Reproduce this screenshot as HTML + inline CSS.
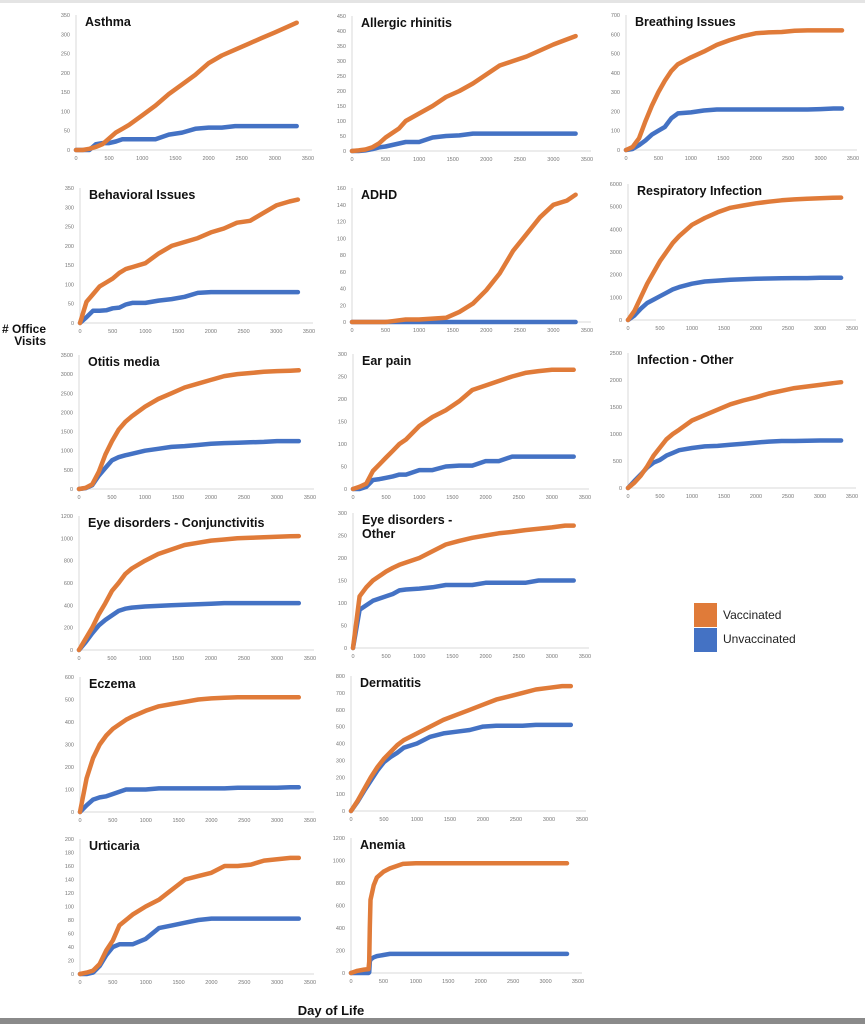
<!DOCTYPE html>
<html><head><meta charset="utf-8">
<style>
html,body{margin:0;padding:0;background:#fff;}
body{width:865px;height:1024px;overflow:hidden;position:relative;font-family:"Liberation Sans",sans-serif;}
</style></head>
<body>
<svg id="chart" width="865" height="1024" viewBox="0 0 865 1024" xmlns="http://www.w3.org/2000/svg" style="position:absolute;left:0;top:0">
<rect x="0" y="0" width="865" height="3" fill="#e4e4e4"/>
<rect x="0" y="1018" width="865" height="6" fill="#8a8a8a"/>
<text x="46" y="333" text-anchor="end" font-size="12" font-weight="bold" fill="#111">
<tspan x="46" y="333"># Office</tspan><tspan x="46" y="345">Visits</tspan></text>
<text x="331" y="1015" text-anchor="middle" font-size="13" font-weight="bold" fill="#111">Day of Life</text>
<g>
<rect x="694" y="603" width="23" height="24" fill="#E07B39"/>
<rect x="694" y="628" width="23" height="24" fill="#4472C4"/>
<text x="723" y="619" font-size="12" fill="#222">Vaccinated</text>
<text x="723" y="643" font-size="12" fill="#222">Unvaccinated</text>
</g>
</svg>
<script>
const days = [0,100,200,300,400,500,600,700,800,1000,1200,1400,1600,1800,2000,2200,2400,2600,2800,3000,3200,3330];
const xTicks = [0,500,1000,1500,2000,2500,3000,3500];
const asthmaVacc = [0,0,3,8,15,30,45,55,65,90,115,145,170,195,225,245,260,275,290,305,320,330];
const asthmaUnvacc = [0,0,0,15,18,18,22,28,28,28,28,40,45,55,58,58,62,62,62,62,62,62];
const allergicVacc = [0,2,5,12,25,45,60,75,100,125,150,180,200,225,255,285,300,315,335,355,372,383];
const allergicUnvacc = [0,0,2,6,12,15,20,25,30,30,45,50,52,58,58,58,58,58,58,58,58,58];
const breathingVacc = [0,15,60,150,230,300,360,410,445,480,510,545,570,590,605,610,612,618,620,620,620,620];
const breathingUnvacc = [0,5,25,50,80,100,120,165,190,195,205,210,210,210,210,210,210,210,210,212,215,215];
const behavioralVacc = [0,55,75,95,105,115,130,140,145,155,180,200,210,220,235,245,260,265,285,305,315,320];
const behavioralUnvacc = [0,15,32,32,33,38,40,48,52,52,58,62,68,78,80,80,80,80,80,80,80,80];
const adhdVacc = [0,0,0,0,0,0,1,2,3,3,4,5,12,22,38,58,85,105,125,140,145,152];
const adhdUnvacc = [0,0,0,0,0,0,0,0,0,0,0,0,0,0,0,0,0,0,0,0,0,0];
const respVacc = [0,400,1000,1600,2100,2600,3000,3400,3700,4200,4500,4750,4950,5050,5150,5220,5280,5320,5350,5370,5390,5400];
const respUnvacc = [0,200,500,750,900,1050,1200,1350,1450,1600,1700,1740,1780,1800,1820,1830,1840,1850,1850,1860,1860,1860];
const otitisVacc = [0,30,120,450,900,1250,1550,1750,1900,2150,2350,2500,2650,2750,2850,2950,3000,3030,3060,3080,3090,3100];
const otitisUnvacc = [0,20,100,350,550,750,830,880,920,1000,1050,1100,1120,1150,1180,1200,1210,1220,1230,1250,1250,1250];
const earVacc = [0,5,12,40,55,70,85,100,110,140,160,175,195,220,230,240,250,258,262,265,265,265];
const earUnvacc = [0,0,5,20,22,25,28,32,32,42,42,50,52,52,62,62,72,72,72,72,72,72];
const infVacc = [0,100,230,400,600,750,900,1000,1080,1250,1350,1450,1550,1620,1680,1750,1800,1850,1880,1910,1940,1960];
const infUnvacc = [0,130,250,380,470,520,600,650,700,740,770,780,800,820,840,860,870,870,875,880,880,880];
const conjVacc = [0,100,200,320,420,530,600,680,730,800,860,900,940,960,980,990,1000,1005,1010,1015,1018,1020];
const conjUnvacc = [0,70,150,220,270,310,350,370,380,390,395,400,405,410,415,420,420,420,420,420,420,420];
const eyeVacc = [0,115,135,150,160,170,178,185,190,200,215,230,238,245,250,255,258,262,265,268,272,272];
const eyeUnvacc = [0,85,95,105,110,115,120,128,130,132,135,140,140,140,145,145,145,145,150,150,150,150];
const eczemaVacc = [0,150,240,300,340,370,390,410,425,450,470,480,490,500,505,508,510,510,510,510,510,510];
const eczemaUnvacc = [0,30,55,65,70,80,90,100,100,100,105,105,105,105,105,105,108,108,108,108,110,110];
const dermVacc = [0,60,130,200,260,310,350,390,420,460,500,540,570,600,630,660,680,700,720,730,740,740];
const dermUnvacc = [0,55,120,180,240,290,320,345,375,400,440,460,470,480,500,505,505,505,510,510,510,510];
const urtVacc = [0,2,5,15,35,50,72,80,88,100,110,125,140,145,150,160,160,162,168,170,172,172];
const urtUnvacc = [0,0,2,12,28,40,44,44,44,52,68,72,76,80,82,82,82,82,82,82,82,82];
const anemiaDays = [0,100,200,270,280,290,300,350,400,500,600,700,800,1000,1500,2000,2500,3000,3330];
const anemiaVacc = [0,20,30,35,100,400,650,780,850,900,930,950,970,975,975,975,975,975,975];
const anemiaUnvacc = [0,0,0,0,5,100,120,140,150,160,170,170,170,170,170,170,170,170,170];

const panels = [
 {id:'asthma',title:['Asthma'],x0:76,x1:308,y0:150,yT:15,max:350,step:50,d:days,v:asthmaVacc,u:asthmaUnvacc},
 {id:'allergic-rhinitis',title:['Allergic  rhinitis'],x0:352,x1:587,y0:151,yT:16,max:450,step:50,d:days,v:allergicVacc,u:allergicUnvacc},
 {id:'breathing-issues',title:['Breathing  Issues'],x0:626,x1:853,y0:150,yT:15,max:700,step:100,d:days,v:breathingVacc,u:breathingUnvacc},
 {id:'behavioral-issues',title:['Behavioral  Issues'],x0:80,x1:309,y0:323,yT:188,max:350,step:50,d:days,v:behavioralVacc,u:behavioralUnvacc},
 {id:'adhd',title:['ADHD'],x0:352,x1:587,y0:322,yT:188,max:160,step:20,d:days,v:adhdVacc,u:adhdUnvacc},
 {id:'respiratory-infection',title:['Respiratory Infection'],x0:628,x1:852,y0:320,yT:184,max:6000,step:1000,d:days,v:respVacc,u:respUnvacc},
 {id:'otitis-media',title:['Otitis media'],x0:79,x1:310,y0:489,yT:355,max:3500,step:500,d:days,v:otitisVacc,u:otitisUnvacc},
 {id:'ear-pain',title:['Ear pain'],x0:353,x1:585,y0:489,yT:354,max:300,step:50,d:days,v:earVacc,u:earUnvacc},
 {id:'infection-other',title:['Infection  - Other'],x0:628,x1:852,y0:488,yT:353,max:2500,step:500,d:days,v:infVacc,u:infUnvacc},
 {id:'eye-conjunctivitis',title:['Eye disorders - Conjunctivitis'],x0:79,x1:310,y0:650,yT:516,max:1200,step:200,d:days,v:conjVacc,u:conjUnvacc},
 {id:'eye-other',title:['Eye disorders -','Other'],x0:353,x1:585,y0:648,yT:513,max:300,step:50,d:days,v:eyeVacc,u:eyeUnvacc},
 {id:'eczema',title:['Eczema'],x0:80,x1:310,y0:812,yT:677,max:600,step:100,d:days,v:eczemaVacc,u:eczemaUnvacc},
 {id:'dermatitis',title:['Dermatitis'],x0:351,x1:582,y0:811,yT:676,max:800,step:100,d:days,v:dermVacc,u:dermUnvacc},
 {id:'urticaria',title:['Urticaria'],x0:80,x1:310,y0:974,yT:839,max:200,step:20,d:days,v:urtVacc,u:urtUnvacc},
 {id:'anemia',title:['Anemia'],x0:351,x1:578,y0:973,yT:838,max:1200,step:200,d:anemiaDays,v:anemiaVacc,u:anemiaUnvacc}
];
const NS='http://www.w3.org/2000/svg';
const svg=document.getElementById('chart');
function mk(tag,attrs,parent){const e=document.createElementNS(NS,tag);for(const k in attrs)e.setAttribute(k,attrs[k]);parent.appendChild(e);return e;}
panels.forEach(p=>{
  const g=mk('g',{},svg);
  
  
  const xs=d=>p.x0+(d/3500)*(p.x1-p.x0);
  const ys=v=>p.y0-(v/p.max)*(p.y0-p.yT);
  const ya=mk('line',{x1:p.x0,y1:p.yT,x2:p.x0,y2:p.y0,stroke:'#d9d9d9','stroke-width':1},g);
  
  
  const xa=mk('line',{x1:p.x0,y1:p.y0,x2:p.x1+4,y2:p.y0,stroke:'#d9d9d9','stroke-width':1},g);
  
  
  for(let t=0;t<=p.max+1e-9;t+=p.step){
    const tl=mk('text',{x:p.x0-6,y:ys(t)+2,'text-anchor':'end','font-size':5.5,fill:'#777'},g);
    tl.textContent=t;
    
    
  }
  xTicks.forEach(t=>{
    const tl=mk('text',{x:xs(t),y:p.y0+10,'text-anchor':'middle','font-size':5.5,fill:'#777'},g);
    tl.textContent=t;
    
    
  });
  [['u','#4472C4','unvaccinated'],['v','#E07B39','vaccinated']].forEach(([k,c,n])=>{
    const pts=p.d.map((d,i)=>xs(d).toFixed(1)+','+ys(p[k][i]).toFixed(1)).join(' ');
    const pl=mk('polyline',{points:pts,fill:'none',stroke:c,'stroke-width':4.5,'stroke-linejoin':'round','stroke-linecap':'round'},g);
    
    
  });
  p.title.forEach((line,i)=>{
    const tt=mk('text',{x:p.x0+9,y:p.yT+11+i*14,'font-size':12.5,'font-weight':'bold',fill:'#111','xml:space':'preserve'},g);
    tt.textContent=line;
    
    
  });
});
</script>
</body></html>
